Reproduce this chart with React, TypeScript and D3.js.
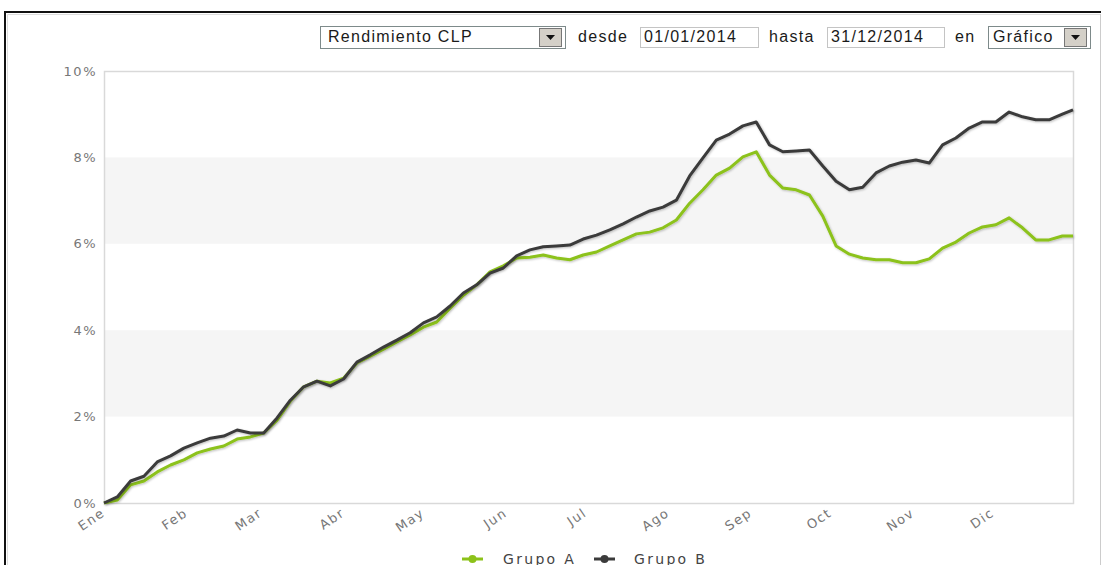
import { useEffect, useRef } from 'react'
import * as d3 from 'd3'

const dates = [
  '2014-01-01', '2014-01-06', '2014-01-11', '2014-01-16', '2014-01-21', '2014-01-26', '2014-01-31',
  '2014-02-05', '2014-02-10', '2014-02-15', '2014-02-20', '2014-02-25', '2014-03-02', '2014-03-07',
  '2014-03-12', '2014-03-17', '2014-03-22', '2014-03-27', '2014-04-01', '2014-04-06', '2014-04-11',
  '2014-04-16', '2014-04-21', '2014-04-26', '2014-05-01', '2014-05-06', '2014-05-11', '2014-05-16',
  '2014-05-21', '2014-05-26', '2014-05-31', '2014-06-05', '2014-06-10', '2014-06-15', '2014-06-20',
  '2014-06-25', '2014-06-30', '2014-07-05', '2014-07-10', '2014-07-15', '2014-07-20', '2014-07-25',
  '2014-07-30', '2014-08-04', '2014-08-09', '2014-08-14', '2014-08-19', '2014-08-24', '2014-08-29',
  '2014-09-03', '2014-09-08', '2014-09-13', '2014-09-18', '2014-09-23', '2014-09-28', '2014-10-03',
  '2014-10-08', '2014-10-13', '2014-10-18', '2014-10-23', '2014-10-28', '2014-11-02', '2014-11-07',
  '2014-11-12', '2014-11-17', '2014-11-22', '2014-11-27', '2014-12-02', '2014-12-07', '2014-12-12',
  '2014-12-17', '2014-12-22', '2014-12-27', '2014-12-31',
]

const grupoA = [
  0.0, 0.07, 0.42, 0.51, 0.72, 0.88, 1.0,
  1.16, 1.25, 1.32, 1.48, 1.53, 1.62, 1.92,
  2.36, 2.69, 2.82, 2.78, 2.89, 3.24, 3.4,
  3.56, 3.73, 3.89, 4.07, 4.19, 4.51, 4.81,
  5.05, 5.35, 5.49, 5.67, 5.69, 5.74, 5.67,
  5.63, 5.74, 5.81, 5.95, 6.09, 6.23, 6.27,
  6.37, 6.55, 6.94, 7.25, 7.59, 7.75, 8.01,
  8.13, 7.59, 7.29, 7.25, 7.13, 6.64, 5.95,
  5.76, 5.67, 5.63, 5.63, 5.56, 5.56, 5.65,
  5.9, 6.04, 6.25, 6.39, 6.44, 6.6, 6.37,
  6.09, 6.09, 6.18, 6.18,
]

const grupoB = [
  0.0, 0.14, 0.51, 0.62, 0.95, 1.09, 1.27,
  1.39, 1.5, 1.55, 1.69, 1.62, 1.62, 1.97,
  2.38, 2.69, 2.82, 2.71, 2.87, 3.26, 3.43,
  3.61, 3.77, 3.94, 4.17, 4.31, 4.56, 4.86,
  5.05, 5.32, 5.44, 5.72, 5.86, 5.93, 5.95,
  5.97, 6.11, 6.2, 6.32, 6.46, 6.62, 6.76,
  6.85, 7.01, 7.57, 7.99, 8.4, 8.54, 8.73,
  8.82, 8.29, 8.13, 8.15, 8.17, 7.8, 7.45,
  7.25, 7.31, 7.64, 7.8, 7.89, 7.94, 7.87,
  8.29, 8.45, 8.68, 8.82, 8.82, 9.05, 8.94,
  8.87, 8.87, 9.0, 9.1,
]

const yTicks = [0, 2, 4, 6, 8, 10]
const bands = [[2, 4], [6, 8]]
const monthLabels = ['Ene', 'Feb', 'Mar', 'Abr', 'May', 'Jun', 'Jul', 'Ago', 'Sep', 'Oct', 'Nov', 'Dic']
const seriesNames = ['Grupo A', 'Grupo B']
const seriesColors = ['#8cc21a', '#3b3b3b']

export default function App() {
  const svgRef = useRef<SVGSVGElement>(null)

  useEffect(() => {
    if (!svgRef.current) return
    const svg = d3.select(svgRef.current)
    svg.selectAll('*').remove()

    const width = 1106
    const height = 565
    const margin = { top: 71, right: 33, bottom: 62, left: 104 }
    const innerW = width - margin.left - margin.right
    const innerH = height - margin.top - margin.bottom
    const axisFont = '"DejaVu Sans", Verdana, sans-serif'
    const uiFont = '"Liberation Sans", Arial, sans-serif'

    // Window frame
    svg.append('rect').attr('x', 0).attr('y', 0).attr('width', width).attr('height', height).style('fill', '#fff')
    svg.append('path').attr('d', `M5,${height} V12 H${width - 5}`).style('fill', 'none').style('stroke', '#111').style('stroke-width', 2)
    svg.append('path').attr('d', `M7.5,${height} V14.5 H${width - 6}`).style('fill', 'none').style('stroke', '#ddd')
    svg.append('line').attr('x1', 1100.5).attr('x2', 1100.5).attr('y1', 14).attr('y2', height).style('stroke', '#ccc')

    // Controls row
    const ctl = svg.append('g')
      .style('font-family', uiFont)
      .style('font-size', '16px')
      .style('letter-spacing', '1.3px')
      .style('fill', '#1a1a1a')
    const box = (x: number, w: number, y: number, h: number, stroke: string) =>
      ctl.append('rect').attr('x', x + 0.5).attr('y', y + 0.5).attr('width', w).attr('height', h)
        .style('fill', '#fff').style('stroke', stroke)
    const dropBtn = (x: number) => {
      ctl.append('rect').attr('x', x + 0.5).attr('y', 28.5).attr('width', 22).attr('height', 18)
        .style('fill', '#d4d0c8').style('stroke', '#777')
      ctl.append('path').attr('d', `M${x + 7},35 h9 l-4.5,5 z`).style('fill', '#111')
    }
    box(320, 245, 26, 22, '#7d8a8a')
    ctl.append('text').attr('x', 328).attr('y', 42).text('Rendimiento CLP')
    dropBtn(539)
    ctl.append('text').attr('x', 578).attr('y', 42).text('desde')
    box(640, 118, 27, 20, '#c4c4c4')
    ctl.append('text').attr('x', 644).attr('y', 42).text('01/01/2014')
    ctl.append('text').attr('x', 769).attr('y', 42).text('hasta')
    box(827, 117, 27, 20, '#c4c4c4')
    ctl.append('text').attr('x', 831).attr('y', 42).text('31/12/2014')
    ctl.append('text').attr('x', 955).attr('y', 42).text('en')
    box(988, 102, 26, 22, '#7d8a8a')
    ctl.append('text').attr('x', 993).attr('y', 42).text('Gráfico')
    dropBtn(1064)

    const g = svg.append('g').attr('transform', `translate(${margin.left},${margin.top})`)

    const parse = d3.timeParse('%Y-%m-%d')
    const xDates = dates.map(d => parse(d) as Date)
    const x = d3.scaleTime()
      .domain([xDates[0], xDates[xDates.length - 1]])
      .range([0, innerW])
    const y = d3.scaleLinear().domain([0, 10]).range([innerH, 0])

    // Alternating bands
    g.selectAll('.band')
      .data(bands)
      .enter()
      .append('rect')
      .attr('x', 0)
      .attr('y', d => y(d[1]))
      .attr('width', innerW)
      .attr('height', d => y(d[0]) - y(d[1]))
      .style('fill', '#f5f5f5')

    // Plot frame
    g.append('rect')
      .attr('x', 0.5).attr('y', 0.5).attr('width', innerW).attr('height', innerH)
      .style('fill', 'none').style('stroke', '#d9d9d9').style('stroke-width', 1.5)

    // Y axis labels
    g.selectAll('.ylab')
      .data(yTicks)
      .enter()
      .append('text')
      .attr('x', -7)
      .attr('y', d => y(d))
      .attr('dy', '0.35em')
      .attr('text-anchor', 'end')
      .style('fill', '#777')
      .style('font-size', '13px')
      .style('letter-spacing', '1.5px')
      .style('font-family', axisFont)
      .text(d => `${d}%`)

    // X axis month labels
    const months = d3.timeMonth.range(new Date(2014, 0, 1), new Date(2014, 11, 2))
    g.selectAll('.xlab')
      .data(months)
      .enter()
      .append('text')
      .attr('transform', d => `translate(${x(d) + 2},${innerH + 12}) rotate(-34)`)
      .attr('text-anchor', 'end')
      .style('fill', '#777')
      .style('font-size', '13px')
      .style('letter-spacing', '1.5px')
      .style('font-family', axisFont)
      .text((d, i) => monthLabels[i])

    // Lines
    const line = d3.line<number>()
      .x((d, i) => x(xDates[i]))
      .y(d => y(d))

    const defs = svg.append('defs')
    defs.append('filter').attr('id', 'shadow').attr('x', '-5%').attr('y', '-5%').attr('width', '110%').attr('height', '110%')
      .append('feDropShadow').attr('dx', 1).attr('dy', 1).attr('stdDeviation', 1).attr('flood-opacity', 0.25)

    ;[grupoA, grupoB].forEach((series, i) => {
      g.append('path')
        .datum(series)
        .attr('d', line)
        .attr('filter', 'url(#shadow)')
        .style('fill', 'none')
        .style('stroke', seriesColors[i])
        .style('stroke-width', 3)
        .style('stroke-linejoin', 'round')
    })

    // Legend
    const legend = svg.append('g').attr('transform', 'translate(0,559)')
    const legendX = [462, 594]
    seriesNames.forEach((name, i) => {
      const lg = legend.append('g').attr('transform', `translate(${legendX[i]},0)`)
      lg.append('line').attr('x1', 0).attr('x2', 21).style('stroke', seriesColors[i]).style('stroke-width', 3)
      lg.append('circle').attr('cx', 10.5).attr('r', 4).style('fill', seriesColors[i])
      lg.append('text')
        .attr('x', i === 0 ? 41 : 40)
        .attr('y', 5)
        .style('fill', '#444')
        .style('font-size', '14px')
        .style('letter-spacing', '2.3px')
        .style('font-family', axisFont)
        .text(name)
    })
  }, [])

  return (
    <svg
      ref={svgRef}
      width={1106}
      height={565}
      style={{ position: 'absolute', left: 0, top: 0, display: 'block' }}
    />
  )
}
